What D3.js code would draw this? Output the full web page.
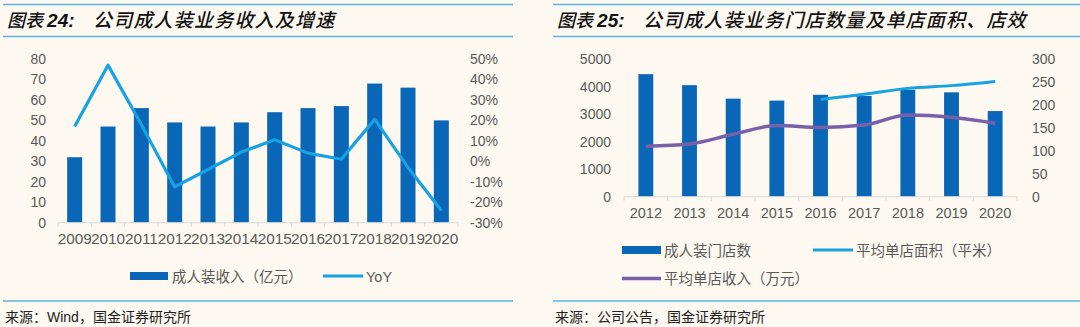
<!DOCTYPE html>
<html>
<head>
<meta charset="utf-8">
<script src="https://cdn.jsdelivr.net/npm/d3@7/dist/d3.min.js"></script>
<style>
  html, body { margin: 0; padding: 0; background: #FDF9F1; }
  svg { display: block; }
  text { font-family: "Liberation Sans", Arial, "Noto Sans CJK SC", sans-serif; }
</style>
</head>
<body>
<svg id="chart" width="1080" height="327"></svg>
<script>
// ---- Chart 24: adult-wear revenue and growth ----
const years24 = ["2009","2010","2011","2012","2013","2014","2015","2016","2017","2018","2019","2020"];
const revenue24 = [32, 47, 56, 49, 47, 49, 54, 56, 57, 68, 66, 50];          // 亿元
const yoy24 = [17, 47, 18, -12.5, -4, 4.5, 10.5, 4, 1, 20.5, -3, -24];      // %
const leftTicks24 = [0, 10, 20, 30, 40, 50, 60, 70, 80];
const rightTicks24 = [-30, -20, -10, 0, 10, 20, 30, 40, 50];

// ---- Chart 25: stores, average store area and revenue per store ----
const years25 = ["2012","2013","2014","2015","2016","2017","2018","2019","2020"];
const stores25 = [4450, 4050, 3560, 3490, 3700, 3660, 3880, 3790, 3110];
const area25 = [null, null, null, null, 212, 223, 236, 242, 251];          // 平米
const income25 = [110, 115, 136, 155, 151, 156, 178, 173, 160];           // 万元
const leftTicks25 = [0, 1000, 2000, 3000, 4000, 5000];
const rightTicks25 = [0, 50, 100, 150, 200, 250, 300];

const BAR = "#0A66B7", CYAN = "#16A2E3", PURPLE = "#7A60A8", RULE = "#5DB5E2";
const AXIS_TXT = "#595959", AXIS_LINE = "#D9D9D9";
const CJK = '"Noto Sans CJK SC", sans-serif';
const LATIN = '"Liberation Sans", Arial, sans-serif';

const svg = d3.select("#chart");

// header / footer rules, titles and source notes
function frame(x0, x1, titleNum, titleRest, source) {
  [4.5, 36.5, 301].forEach(y => svg.append("line")
    .attr("x1", x0).attr("x2", x1).attr("y1", y).attr("y2", y)
    .attr("stroke", RULE).attr("stroke-width", 1.6));
  const t = svg.append("text").attr("x", x0 + 4).attr("y", 27)
    .attr("font-style", "italic").attr("fill", "#111");
  t.append("tspan").attr("font-family", CJK).attr("font-size", 18).attr("font-weight", 500).text("图表 ");
  t.append("tspan").attr("font-family", LATIN).attr("font-size", 19).attr("font-weight", 700).text(titleNum + ":");
  svg.append("text").attr("x", x0 + 90).attr("y", 27)
    .attr("font-style", "italic").attr("fill", "#111")
    .attr("font-family", CJK).attr("font-size", 19).attr("font-weight", 500)
    .attr("letter-spacing", 1.2).text(titleRest);
  svg.append("text").attr("x", x0 + 2).attr("y", 322)
    .attr("font-size", 14).attr("fill", "#222").attr("font-family", CJK).text(source);
}
frame(3, 513, "24", "公司成人装业务收入及增速", "来源：Wind，国金证券研究所");
frame(553, 1080, "25", "公司成人装业务门店数量及单店面积、店效", "来源：公司公告，国金证券研究所");

function axisStyle(size) {
  return g => {
    g.select(".domain").remove();
    g.selectAll(".tick line").remove();
    g.selectAll(".tick text").attr("fill", AXIS_TXT).attr("font-size", size || 14)
      .attr("font-family", LATIN);
  };
}

function baseline(x, y0) {
  // category axis with small boundary ticks
  const [a, b] = x.range();
  svg.append("line").attr("x1", a).attr("x2", b).attr("y1", y0).attr("y2", y0)
    .attr("stroke", AXIS_LINE).attr("stroke-width", 1);
  const step = x.step();
  for (let i = 0; i <= x.domain().length; i++) {
    const xx = a + i * step;
    svg.append("line").attr("x1", xx).attr("x2", xx).attr("y1", y0).attr("y2", y0 + 4)
      .attr("stroke", AXIS_LINE).attr("stroke-width", 1);
  }
}

// ================= Chart 24 =================
{
  const x = d3.scaleBand().domain(years24).range([58, 458]).paddingInner(0.55).paddingOuter(0.275);
  const yL = d3.scaleLinear().domain([0, 80]).range([222.7, 59]);
  const yR = d3.scaleLinear().domain([-30, 50]).range([222.7, 59]);

  svg.append("g").selectAll("rect").data(years24).join("rect")
    .attr("x", d => x(d)).attr("width", x.bandwidth())
    .attr("y", (d, i) => yL(revenue24[i]))
    .attr("height", (d, i) => yL(0) - yL(revenue24[i]))
    .attr("fill", BAR);

  baseline(x, 222.7);

  const line = d3.line()
    .x((d, i) => x(years24[i]) + x.bandwidth() / 2)
    .y(d => yR(d));
  svg.append("path").datum(yoy24).attr("d", line)
    .attr("fill", "none").attr("stroke", CYAN).attr("stroke-width", 3.2)
    .attr("stroke-linejoin", "round");

  svg.append("g").attr("transform", "translate(46,0)")
    .call(d3.axisLeft(yL).tickValues(leftTicks24).tickSize(0).tickPadding(0))
    .call(axisStyle(14));
  svg.append("g").attr("transform", "translate(470,0)")
    .call(d3.axisRight(yR).tickValues(rightTicks24).tickFormat(d => d + "%").tickSize(0).tickPadding(0))
    .call(axisStyle(14));
  svg.append("g").attr("transform", "translate(0,229)")
    .call(d3.axisBottom(x).tickSize(0).tickPadding(4))
    .call(axisStyle(15.3));

  // legend
  svg.append("rect").attr("x", 130).attr("y", 272).attr("width", 38).attr("height", 8).attr("fill", BAR);
  svg.append("text").attr("x", 172).attr("y", 281.5).attr("font-size", 14.5).attr("fill", AXIS_TXT)
    .attr("font-family", CJK).text("成人装收入（亿元）");
  svg.append("line").attr("x1", 323).attr("x2", 363).attr("y1", 276).attr("y2", 276)
    .attr("stroke", CYAN).attr("stroke-width", 3);
  svg.append("text").attr("x", 366).attr("y", 281.5).attr("font-size", 14.5).attr("fill", AXIS_TXT)
    .text("YoY");
}

// ================= Chart 25 =================
{
  const x = d3.scaleBand().domain(years25).range([624, 1017]).paddingInner(0.66).paddingOuter(0.33);
  const yL = d3.scaleLinear().domain([0, 5000]).range([196.7, 59]);
  const yR = d3.scaleLinear().domain([0, 300]).range([196.7, 59]);

  svg.append("g").selectAll("rect").data(years25).join("rect")
    .attr("x", d => x(d)).attr("width", x.bandwidth())
    .attr("y", (d, i) => yL(stores25[i]))
    .attr("height", (d, i) => yL(0) - yL(stores25[i]))
    .attr("fill", BAR);

  baseline(x, 196.7);

  const cx = i => x(years25[i]) + x.bandwidth() / 2;
  const areaLine = d3.line().defined(d => d != null)
    .x((d, i) => cx(i)).y(d => yR(d)).curve(d3.curveMonotoneX);
  const incomeLine = d3.line()
    .x((d, i) => cx(i)).y(d => yR(d)).curve(d3.curveMonotoneX);

  svg.append("path").datum(income25).attr("d", incomeLine)
    .attr("fill", "none").attr("stroke", PURPLE).attr("stroke-width", 3.5);
  svg.append("path").datum(area25).attr("d", areaLine)
    .attr("fill", "none").attr("stroke", CYAN).attr("stroke-width", 3);

  svg.append("g").attr("transform", "translate(611,0)")
    .call(d3.axisLeft(yL).tickValues(leftTicks25).tickFormat(d3.format("d")).tickSize(0).tickPadding(0))
    .call(axisStyle(14));
  svg.append("g").attr("transform", "translate(1032,0)")
    .call(d3.axisRight(yR).tickValues(rightTicks25).tickSize(0).tickPadding(0))
    .call(axisStyle(14));
  svg.append("g").attr("transform", "translate(0,204)")
    .call(d3.axisBottom(x).tickSize(0).tickPadding(4))
    .call(axisStyle(14.5));

  // legend
  svg.append("rect").attr("x", 622).attr("y", 246).attr("width", 39).attr("height", 8).attr("fill", BAR);
  svg.append("text").attr("x", 664).attr("y", 255.5).attr("font-size", 14.5).attr("fill", AXIS_TXT)
    .attr("font-family", CJK).text("成人装门店数");
  svg.append("line").attr("x1", 813).attr("x2", 853).attr("y1", 250).attr("y2", 250)
    .attr("stroke", CYAN).attr("stroke-width", 3);
  svg.append("text").attr("x", 856).attr("y", 255.5).attr("font-size", 14.5).attr("fill", AXIS_TXT)
    .attr("font-family", CJK).text("平均单店面积（平米）");
  svg.append("line").attr("x1", 622).attr("x2", 661).attr("y1", 278.5).attr("y2", 278.5)
    .attr("stroke", PURPLE).attr("stroke-width", 3.5);
  svg.append("text").attr("x", 664).attr("y", 284).attr("font-size", 14.5).attr("fill", AXIS_TXT)
    .attr("font-family", CJK).text("平均单店收入（万元）");
}
</script>
</body>
</html>
